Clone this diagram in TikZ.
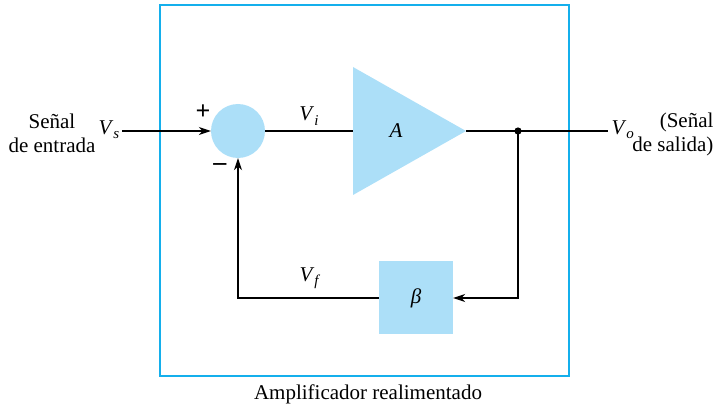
\documentclass[tikz,border=0pt]{standalone}
\usepackage{fontspec}
\setmainfont[Ligatures=TeX]{Liberation Serif}
\usepackage{tikz}
\usetikzlibrary{arrows.meta,positioning,calc}
\definecolor{fillblue}{RGB}{172,223,248}
\definecolor{frameblue}{RGB}{20,175,236}
\newcommand{\sig}[1]{\textit{V}\raisebox{-0.45ex}{\fontsize{15}{15}\selectfont\textit{#1}}}

\begin{document}
\begin{tikzpicture}[x=1pt, y=-1pt,
    block/.style={rectangle, fill=fillblue, minimum width=74pt, minimum height=73pt, inner sep=0pt},
    sumnode/.style={circle, fill=fillblue, minimum size=54pt, inner sep=0pt},
    arrow/.style={-{Stealth[length=12pt,width=8pt]}, line width=1.2pt},
    wire/.style={line width=1.2pt},
    every node/.style={font=\rmfamily\fontsize{21}{24}\selectfont}
]
    \useasboundingbox (0,0) rectangle (716,409);

    % Outer frame
    \draw[frameblue, line width=2.6pt] (160,5) rectangle (569,376);
    \node (caption) at (368,394) {Amplificador realimentado};

    % Summing point and amplifier
    \node[sumnode] (sum) at (238,131) {};
    \fill[fillblue] (353,67) -- (466,131) -- (353,195) -- cycle;
    \coordinate (ampin) at (353,131);
    \coordinate (ampout) at (466,131);
    \node (amp) at (396,131) {\textit{A}};

    % Feedback network
    \node[block] (beta) at (416,298) {\textit{β}};

    % Input and output
    \coordinate (in) at (122,131);
    \coordinate (out) at (608,131);
    \fill (518,131) circle (3.6pt) coordinate (split);
    \node[align=center] (insig) at (52,133) {Señal\\de entrada};
    \node[anchor=west] (vs) at (95,130) {\sig{s}};
    \node[anchor=west] (vo) at (608,130) {\sig{o}};
    \node[align=right, anchor=east] (outsig) at (717,134) {(Señal\\de salida)};

    % Signs and labels
    \node (plus) at (203,112) {\textbf{\fontsize{26}{26}\selectfont +}};
    \node (minus) at (220,167) {\textbf{\fontsize{26}{26}\selectfont --}};
    \node (vi) at (309,116) {\sig{i}};
    \node (vf) at (310,278) {\sig{f}};

    % Connections
    \draw[arrow] (in) -- (sum.west);
    \draw[wire] (sum.east) -- (ampin);
    \draw[wire] (ampout) -- (split) -- (out);
    \draw[arrow] (split) |- (beta.east);
    \draw[arrow] (beta.west) -| (sum.south);
\end{tikzpicture}
\end{document}
